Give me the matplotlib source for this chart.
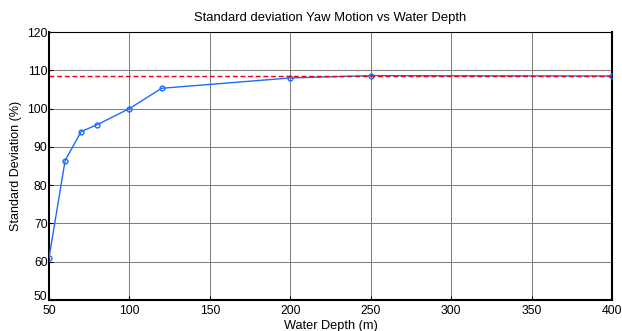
import matplotlib
matplotlib.use("Agg")
import matplotlib.pyplot as plt
from matplotlib.transforms import ScaledTranslation

depth = [50, 60, 70, 80, 100, 120, 200, 250, 400]
std_dev = [61.0, 86.4, 94.0, 95.8, 100.0, 105.3, 108.0, 108.6, 108.5]
ref_level = 108.5
xticks = [50, 100, 150, 200, 250, 300, 350, 400]
yticks = [50, 60, 70, 80, 90, 100, 110, 120]

plt.rcParams['font.family'] = ['Liberation Sans', 'DejaVu Sans']
fig = plt.figure(figsize=(6.22, 3.31), dpi=100)
ax = fig.add_axes([49/622, 31/331, (612-49)/622, (300-32)/331])

ax.plot(depth, std_dev, color='#1a6cff', lw=1.0, marker='o', ms=3.5,
        mfc='none', mec='#1a6cff', mew=1.0, zorder=3)
ax.axhline(ref_level, color='#e8000b', ls=(0, (3.5, 2)), lw=1.0, zorder=4)

ax.set_xlim(50, 400)
ax.set_ylim(50, 120)
ax.set_xticks(xticks)
ax.set_yticks(yticks)
ax.grid(True, color='#7a7a7a', lw=0.7, ls='-')
ax.set_axisbelow(True)
ax.tick_params(direction='in', length=3, labelsize=8.8, colors='black')
ax.tick_params(axis='x', pad=3.5)
ax.tick_params(axis='y', pad=1)
for s in ax.spines.values():
    s.set_color('black')
ax.spines['left'].set_linewidth(1.5)
ax.spines['bottom'].set_linewidth(1.5)
ax.spines['right'].set_linewidth(1.5)
ax.spines['top'].set_linewidth(0.8)

fig.canvas.draw()
lowest = ax.get_yticklabels()[0]
lowest.set_transform(lowest.get_transform() + ScaledTranslation(0, 3/72, fig.dpi_scale_trans))

ax.set_title('Standard deviation Yaw Motion vs Water Depth', fontsize=9.4, pad=8)
ax.set_xlabel('Water Depth (m)', fontsize=9.2)
ax.xaxis.label.set_va('baseline')
ax.xaxis.set_label_coords(0.5, (300 - 328.5) / 268)
ax.set_ylabel('Standard Deviation (%)', fontsize=9, labelpad=4)

fig.savefig('out.png', dpi=100)
